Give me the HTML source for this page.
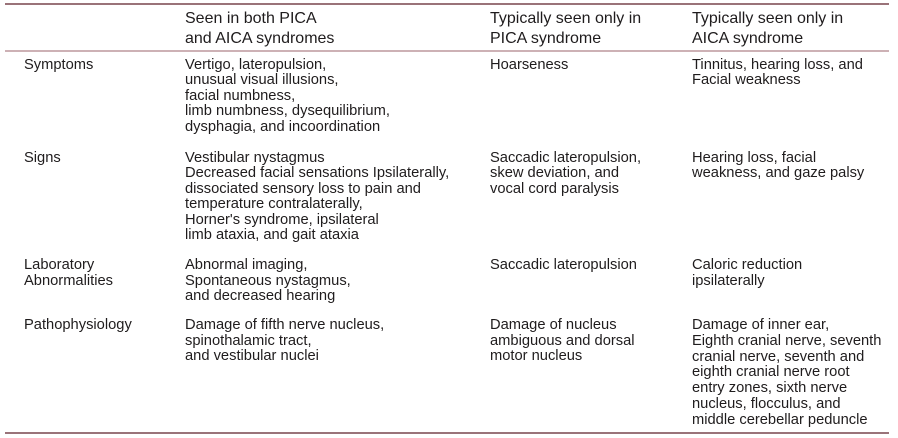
<!DOCTYPE html>
<html>
<head>
<meta charset="utf-8">
<style>
  html, body { margin:0; padding:0; }
  body { width:898px; height:438px; background:#ffffff; position:relative; overflow:hidden; }
  .c { position:absolute; font-family:"Liberation Sans", Arial, sans-serif; font-size:14.7px; line-height:15.5px; color:#1f1c1d; white-space:nowrap; }
  .h { font-size:16px; line-height:19.5px; }
  .rule { position:absolute; left:5px; width:884px; }
</style>
</head>
<body>
  <div class="rule" style="top:3px;height:2px;background:#9a7379;"></div>
  <div class="rule" style="top:50px;height:2px;background:#cdb1b5;"></div>
  <div class="rule" style="top:432px;height:2px;background:#9a7379;"></div>

  <!-- Header -->
  <div class="c h" style="left:185px;top:9px;">Seen in both PICA<br>and AICA syndromes</div>
  <div class="c h" style="left:490px;top:9px;">Typically seen only in<br>PICA syndrome</div>
  <div class="c h" style="left:692px;top:9px;">Typically seen only in<br>AICA syndrome</div>

  <!-- Symptoms -->
  <div class="c" style="left:24px;top:57.5px;">Symptoms</div>
  <div class="c" style="left:185px;top:57.5px;">Vertigo, lateropulsion,<br>unusual visual illusions,<br>facial numbness,<br>limb numbness, dysequilibrium,<br>dysphagia, and incoordination</div>
  <div class="c" style="left:490px;top:57.5px;">Hoarseness</div>
  <div class="c" style="left:692px;top:57.5px;">Tinnitus, hearing loss, and<br>Facial weakness</div>

  <!-- Signs -->
  <div class="c" style="left:24px;top:150.5px;">Signs</div>
  <div class="c" style="left:185px;top:150.5px;">Vestibular nystagmus<br>Decreased facial sensations Ipsilaterally,<br>dissociated sensory loss to pain and<br>temperature contralaterally,<br>Horner's syndrome, ipsilateral<br>limb ataxia, and gait ataxia</div>
  <div class="c" style="left:490px;top:150.5px;">Saccadic lateropulsion,<br>skew deviation, and<br>vocal cord paralysis</div>
  <div class="c" style="left:692px;top:150.5px;">Hearing loss, facial<br>weakness, and gaze palsy</div>

  <!-- Laboratory -->
  <div class="c" style="left:24px;top:258px;">Laboratory<br>Abnormalities</div>
  <div class="c" style="left:185px;top:258px;">Abnormal imaging,<br>Spontaneous nystagmus,<br>and decreased hearing</div>
  <div class="c" style="left:490px;top:258px;">Saccadic lateropulsion</div>
  <div class="c" style="left:692px;top:258px;">Caloric reduction<br>ipsilaterally</div>

  <!-- Pathophysiology -->
  <div class="c" style="left:24px;top:318px;">Pathophysiology</div>
  <div class="c" style="left:185px;top:318px;">Damage of fifth nerve nucleus,<br>spinothalamic tract,<br>and vestibular nuclei</div>
  <div class="c" style="left:490px;top:318px;">Damage of nucleus<br>ambiguous and dorsal<br>motor nucleus</div>
  <div class="c" style="left:692px;top:318px;line-height:15.8px;">Damage of inner ear,<br>Eighth cranial nerve, seventh<br>cranial nerve, seventh and<br>eighth cranial nerve root<br>entry zones, sixth nerve<br>nucleus, flocculus, and<br>middle cerebellar peduncle</div>
</body>
</html>
